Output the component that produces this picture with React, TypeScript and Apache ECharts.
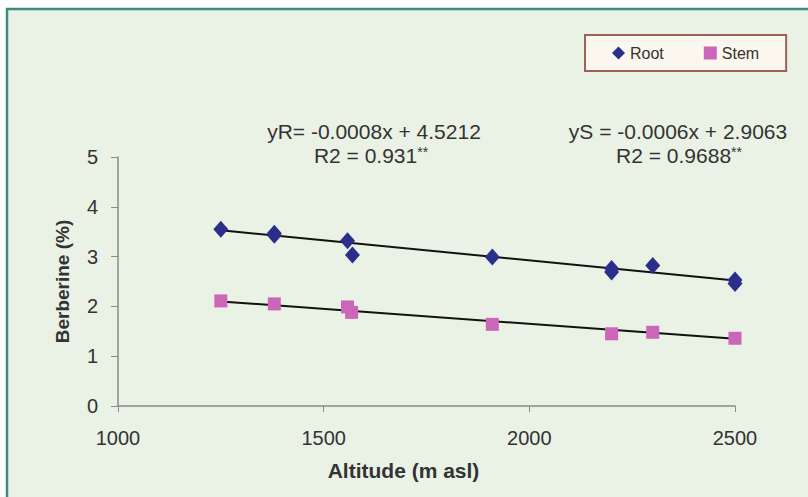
import React, { useEffect, useRef } from "react";
import * as echarts from "echarts";

// Root (diamond) observations: [altitude m asl, berberine %]
const rootAltitude = [1250, 1380, 1380, 1558, 1570, 1910, 2200, 2200, 2300, 2500, 2500];
const rootBerberine = [3.55, 3.47, 3.43, 3.32, 3.03, 2.99, 2.76, 2.69, 2.82, 2.53, 2.46];

// Stem (square) observations
const stemAltitude = [1250, 1380, 1558, 1568, 1910, 2200, 2300, 2500];
const stemBerberine = [2.11, 2.05, 1.99, 1.88, 1.64, 1.45, 1.48, 1.36];

// Trend line end points
const rootTrendX = [1250, 2500];
const rootTrendY = [3.53, 2.52];
const stemTrendX = [1250, 2500];
const stemTrendY = [2.1, 1.35];

const xTicks = { min: 1000, max: 2500, interval: 500 };
const yTicks = { min: 0, max: 5, interval: 1 };

const rootEquation = ["yR= -0.0008x + 4.5212", "R2 = 0.931", "**"];
const stemEquation = ["yS = -0.0006x + 2.9063", "R2 = 0.9688", "**"];

const FONT = "'Liberation Sans', Arial, sans-serif";
const TXT = "#333333";

export default function App() {
  const ref = useRef<HTMLDivElement>(null);
  useEffect(() => {
    if (!ref.current) return;
    const chart = echarts.init(ref.current, undefined, { renderer: "svg" });
    const pair = (xs: number[], ys: number[]) => xs.map((x, i) => [x, ys[i]]);
    const eqLine = (x: number, y: number, text: string) => ({
      type: "text",
      x,
      y,
      style: {
        text,
        fontSize: 21,
        fontFamily: FONT,
        fill: TXT,
        textAlign: "center",
        textVerticalAlign: "middle",
      },
    });
    const r2Line = (x: number, y: number, text: string, stars: string) => ({
      type: "text",
      x,
      y,
      style: {
        text: text + "{s|" + stars + "}",
        fontSize: 21,
        fontFamily: FONT,
        fill: TXT,
        textAlign: "center",
        textVerticalAlign: "middle",
        rich: {
          s: { fontSize: 14, fontFamily: FONT, fill: TXT, verticalAlign: "top" },
        },
      },
    });
    chart.setOption({
      animation: false,
      backgroundColor: "#ffffff",
      textStyle: { fontFamily: FONT },
      graphic: [
        {
          type: "rect",
          z: -10,
          silent: true,
          shape: { x: 7, y: 9, width: 820, height: 500 },
          style: { fill: "#e9f2e4", stroke: "#3e8a7f", lineWidth: 2.5 },
        },
        eqLine(374, 131, rootEquation[0]),
        r2Line(371, 155, rootEquation[1], rootEquation[2]),
        eqLine(678, 131, stemEquation[0]),
        r2Line(679, 155, stemEquation[1], stemEquation[2]),
      ],
      legend: {
        data: ["Root", "Stem"],
        left: 585,
        top: 35,
        orient: "horizontal",
        padding: [10, 27, 10, 27],
        itemGap: 40,
        itemWidth: 13,
        itemHeight: 13,
        borderColor: "#a0605a",
        borderWidth: 2,
        backgroundColor: "#fbf6ee",
        textStyle: { fontSize: 16, color: TXT, fontFamily: FONT },
      },
      grid: { left: 118, top: 157, right: 73, bottom: 91, containLabel: false },
      xAxis: {
        type: "value",
        min: xTicks.min,
        max: xTicks.max,
        interval: xTicks.interval,
        name: "Altitude (m asl)",
        nameLocation: "middle",
        nameGap: 54,
        nameTextStyle: {
          fontSize: 21,
          fontWeight: "bold",
          color: TXT,
          fontFamily: FONT,
          padding: [0, 46, 0, 0],
        },
        axisLine: { show: true, onZero: false, lineStyle: { color: "#8a8a8a", width: 1.5 } },
        axisTick: { show: true, inside: false, length: 6, lineStyle: { color: "#8a8a8a" } },
        axisLabel: {
          fontSize: 20,
          color: TXT,
          margin: 22,
          fontFamily: FONT,
          formatter: (v: number) => String(v),
        },
        splitLine: { show: false },
      },
      yAxis: {
        type: "value",
        min: yTicks.min,
        max: yTicks.max,
        interval: yTicks.interval,
        name: "Berberine (%)",
        nameLocation: "middle",
        nameGap: 46,
        nameTextStyle: { fontSize: 19, fontWeight: "bold", color: TXT, fontFamily: FONT },
        axisLine: { show: true, lineStyle: { color: "#8a8a8a", width: 1.5 } },
        axisTick: { show: true, inside: false, length: 7, lineStyle: { color: "#8a8a8a" } },
        axisLabel: { fontSize: 20, color: TXT, margin: 20, fontFamily: FONT },
        splitLine: { show: false },
      },
      series: [
        {
          name: "Root trend",
          type: "line",
          data: pair(rootTrendX, rootTrendY),
          symbol: "none",
          lineStyle: { color: "#111111", width: 2 },
          z: 1,
        },
        {
          name: "Stem trend",
          type: "line",
          data: pair(stemTrendX, stemTrendY),
          symbol: "none",
          lineStyle: { color: "#111111", width: 2 },
          z: 1,
        },
        {
          name: "Root",
          type: "scatter",
          symbol: "diamond",
          symbolSize: [15, 17],
          itemStyle: { color: "#2b2f8c", opacity: 1 },
          data: pair(rootAltitude, rootBerberine),
          z: 3,
        },
        {
          name: "Stem",
          type: "scatter",
          symbol: "rect",
          symbolSize: 13,
          itemStyle: { color: "#cc66b8", opacity: 1 },
          data: pair(stemAltitude, stemBerberine),
          z: 2,
        },
      ],
    });
    return () => chart.dispose();
  }, []);
  return (
    <div
      ref={ref}
      style={{ position: "fixed", left: 0, top: 0, width: 808, height: 497 }}
    />
  );
}
